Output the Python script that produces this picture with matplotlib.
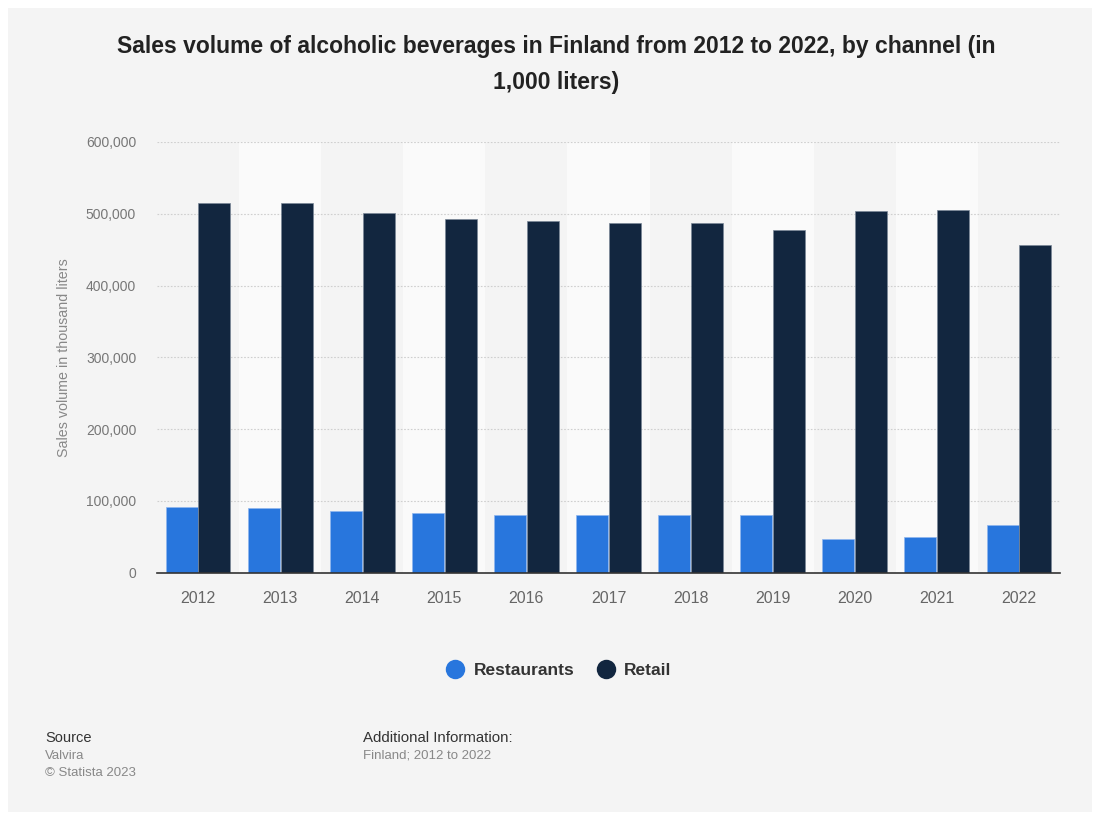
import matplotlib
matplotlib.use("Agg")
import matplotlib.pyplot as plt
import numpy as np
from matplotlib.patches import Rectangle
from matplotlib.lines import Line2D
from matplotlib.ticker import FuncFormatter

years = ["2012", "2013", "2014", "2015", "2016", "2017", "2018", "2019", "2020", "2021", "2022"]
restaurants = [92000, 89700, 85500, 83600, 80000, 80000, 80000, 80000, 47000, 49300, 66000]
retail = [515000, 515000, 501000, 492600, 490000, 486600, 486600, 476900, 503300, 505000, 456400]

plt.rcParams['font.family'] = ['Liberation Sans', 'DejaVu Sans']

fig = plt.figure(figsize=(11, 8.15), dpi=100)
fig.patch.set_facecolor('white')
fig.add_artist(Rectangle((8/1100, 3/815), 1084/1100, 804/815, transform=fig.transFigure,
                         facecolor='#f4f4f4', edgecolor='none', zorder=-10))

ax = fig.add_axes([157/1100, 1-572.7/815, 903/1100, (572.7-141.9)/815])
ax.set_facecolor('none')
x = np.arange(len(years))
# alternating bands
for i in x:
    if i % 2 == 1:
        ax.axvspan(i-0.5, i+0.5, color='#fafafa', zorder=0, lw=0)

w = 0.39
ax.bar(x - 0.2, restaurants, width=w, color='#2876dd', edgecolor='#8fb6ee', linewidth=0.5, zorder=3, label='Restaurants')
ax.bar(x + 0.2, retail, width=w, color='#12263f', edgecolor='#7a8797', linewidth=0.5, zorder=3, label='Retail')

ax.set_xlim(-0.5, len(years) - 0.5)
ax.set_ylim(0, 600000)
ax.set_yticks(np.arange(0, 600001, 100000))
ax.yaxis.set_major_formatter(FuncFormatter(lambda v, p: f"{int(v):,}"))
ax.set_xticks(x)
ax.set_xticklabels(years)
ax.grid(axis='y', linestyle=(0, (1.5, 1.5)), color='#cfcfcf', linewidth=0.8, zorder=1)
for s in ['top', 'right', 'left']:
    ax.spines[s].set_visible(False)
ax.spines['bottom'].set_color('#333333')
ax.spines['bottom'].set_linewidth(1.2)
ax.spines['bottom'].set_zorder(5)
ax.tick_params(axis='both', length=0)
ax.tick_params(axis='x', labelsize=11.5, labelcolor='#666666', pad=13)
ax.tick_params(axis='y', labelsize=10, labelcolor='#777777', pad=15)
ax.set_ylabel('Sales volume in thousand liters', fontsize=10.3, color='#888888', labelpad=11)

fig.text(556/1100, 1-47/815, 'Sales volume of alcoholic beverages in Finland from 2012 to 2022, by channel (in',
         ha='center', va='center', fontsize=16.5, fontweight='bold', color='#222222')
fig.text(556/1100, 1-82/815, '1,000 liters)', ha='center', va='center', fontsize=16.5, fontweight='bold', color='#222222')

handles = [Line2D([0], [0], marker='o', color='none', markerfacecolor='#2876dd', markeredgecolor='none', markersize=14),
           Line2D([0], [0], marker='o', color='none', markerfacecolor='#12263f', markeredgecolor='none', markersize=14)]
leg = fig.legend(handles, ['Restaurants', 'Retail'], loc='center', bbox_to_anchor=(558/1100, 1-670/815),
                 ncol=2, frameon=False, handletextpad=0.45, columnspacing=1.2,
                 prop={'size': 12.5, 'weight': 'bold'}, handlelength=1.2)
for t in leg.get_texts():
    t.set_color('#333333')

fig.text(45/1100, 1-738/815, 'Source', fontsize=10.5, color='#333333', va='center')
fig.text(45/1100, 1-756/815, 'Valvira', fontsize=9.5, color='#888888', va='center')
fig.text(45/1100, 1-773/815, '© Statista 2023', fontsize=9.5, color='#888888', va='center')
fig.text(363/1100, 1-738/815, 'Additional Information:', fontsize=10.8, color='#333333', va='center')
fig.text(363/1100, 1-756/815, 'Finland; 2012 to 2022', fontsize=9.5, color='#888888', va='center')

fig.savefig('out.png', dpi=100, facecolor=fig.get_facecolor())
